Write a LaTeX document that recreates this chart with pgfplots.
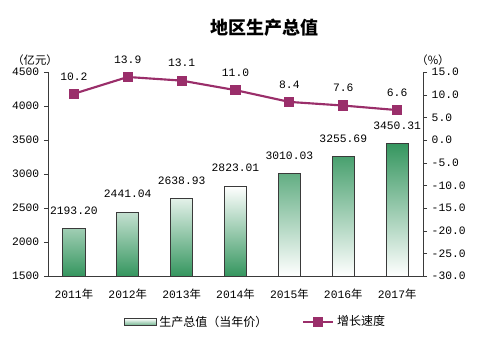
\documentclass[border=0pt]{standalone}
\usepackage{pgfplots}
\pgfplotsset{compat=1.18}
\usepackage{fontspec}
\setmainfont{Liberation Mono}
\newfontfamily\cjk{Noto Sans CJK SC}
\definecolor{barg}{HTML}{35965F}
\definecolor{linec}{HTML}{9A2E6A}
\definecolor{edgec}{HTML}{3A3A3A}
\begin{document}
\begin{tikzpicture}
\path[use as bounding box] (0pt,0pt) rectangle (369.75pt,258pt);
% title
\node[font=\cjk\bfseries\fontsize{13.5}{15}\selectfont] at (198.5pt,237pt) {地区生产总值};
\node[font=\cjk\fontsize{8.5}{10}\selectfont] at (26.25pt,213pt) {（亿元）};
\node[font=\cjk\fontsize{8.5}{10}\selectfont] at (324.75pt,213pt) {（\%）};
\begin{axis}[
  at={(36pt,51pt)}, anchor=south west,
  scale only axis, width=281.25pt, height=153pt,
  xmin=-0.48, xmax=6.48,
  ymin=1500, ymax=4500,
  ytick={1500,2000,2500,3000,3500,4000,4500},
  axis y line*=left, axis x line*=bottom,
  axis line style={draw=edgec, line width=0.6pt},
  xtick={0,...,6},
  xticklabels={2011{\cjk 年},2012{\cjk 年},2013{\cjk 年},2014{\cjk 年},2015{\cjk 年},2016{\cjk 年},2017{\cjk 年}},
  extra x ticks={0.5,1.5,2.5,3.5,4.5,5.5},
  extra x tick labels={},
  extra x tick style={tick align=inside, tick style={draw=edgec}},
  major tick length=3pt,
  x tick style={draw=none},
  y tick style={draw=edgec},
  tick align=outside,
  ticklabel style={font=\fontsize{8.5}{10}\selectfont},
  /pgf/number format/assume math mode=true,
  /pgf/number format/1000 sep={},
  yticklabel style={/pgf/number format/fixed},
  xticklabel style={yshift=-3pt},
  ybar, bar width=0.41,
  clip=false,
  nodes near coords,
  nodes near coords style={font=\fontsize{8.5}{10}\selectfont, /pgf/number format/fixed, /pgf/number format/fixed zerofill, /pgf/number format/precision=2, yshift=7pt},
]
\addplot[bar shift=0pt, draw=edgec, line width=0.6pt, top color=white, bottom color=barg, shading=axis]
  coordinates {(0,2193.20) (1,2441.04) (2,2638.93) (3,2823.01)};
\addplot[bar shift=0pt, draw=edgec, line width=0.6pt, top color=barg, bottom color=white, shading=axis]
  coordinates {(4,3010.03) (5,3255.69) (6,3450.31)};
\end{axis}
\begin{axis}[
  at={(36pt,51pt)}, anchor=south west,
  scale only axis, width=281.25pt, height=153pt,
  xmin=-0.48, xmax=6.48,
  ymin=-30, ymax=15,
  ytick={-30,-25,...,15},
  axis y line*=right, axis x line=none,
  axis line style={draw=edgec, line width=0.6pt},
  y tick style={draw=edgec},
  major tick length=3pt,
  tick align=outside,
  ticklabel style={font=\fontsize{8.5}{10}\selectfont},
  /pgf/number format/assume math mode=true,
  yticklabel style={/pgf/number format/fixed, /pgf/number format/fixed zerofill, /pgf/number format/precision=1},
  clip=false,
  legend style={at={(0.555,-0.225)}, anchor=center, draw=none, fill=none,
    legend columns=2, font=\cjk\fontsize{9}{10}\selectfont,
    /tikz/every even column/.append style={column sep=24pt}},
]
\addlegendimage{legend image code/.code={\draw[draw=edgec, line width=0.6pt, top color=white, bottom color=barg!70, shading=axis] (-0.05cm,-0.09cm) rectangle (0.78cm,0.09cm);}}
\addlegendentry{生产总值（当年价）}
\addplot[color=linec, line width=1.6pt, mark=square*, mark size=3pt, mark options={solid},
  legend image code/.code={\draw[line width=1.6pt, color=linec] (0cm,0cm) -- (0.8cm,0cm); \draw[fill=linec, draw=linec] (0.3cm,-0.1cm) rectangle (0.5cm,0.1cm);},
  nodes near coords, nodes near coords style={font=\fontsize{8.5}{10}\selectfont, text=black, /pgf/number format/fixed, /pgf/number format/fixed zerofill, /pgf/number format/precision=1, yshift=6pt}]
  coordinates {(0,10.2) (1,13.9) (2,13.1) (3,11.0) (4,8.4) (5,7.6) (6,6.6)};
\addlegendentry{增长速度}
\end{axis}
\end{tikzpicture}
\end{document}
